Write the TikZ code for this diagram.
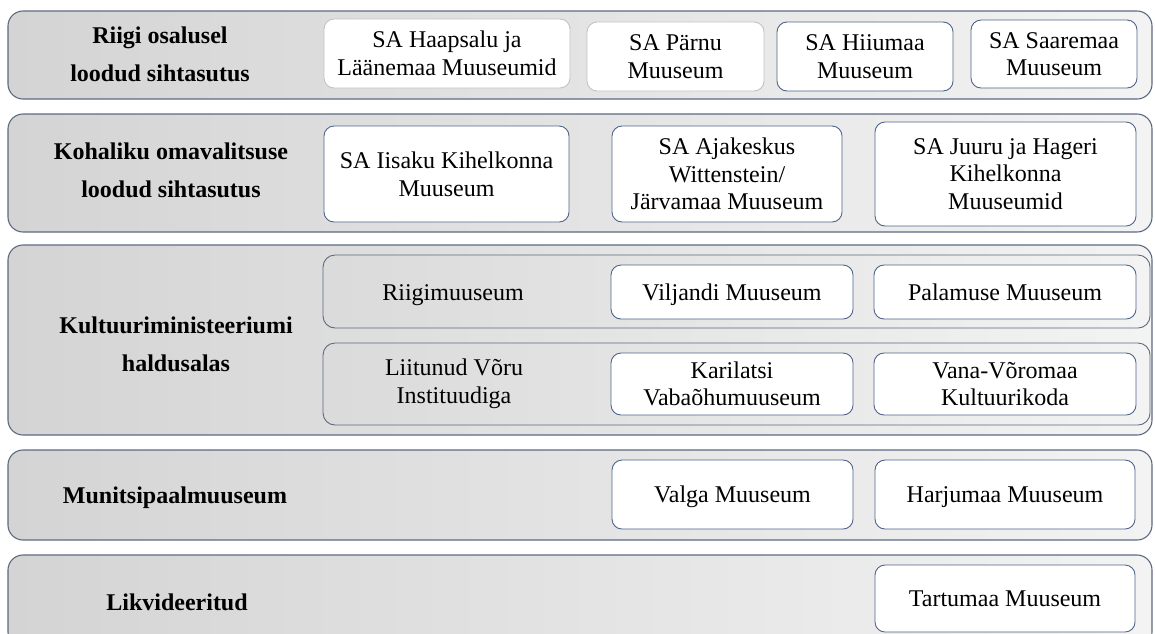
\documentclass[tikz,border=0pt]{standalone}
\usepackage{fontspec}
\setmainfont{Liberation Serif}
\definecolor{bandline}{RGB}{92,106,128}
\definecolor{boxline}{RGB}{78,100,138}
\definecolor{lightline}{RGB}{195,195,195}
\definecolor{gl}{RGB}{212,212,212}
\definecolor{gr}{RGB}{243,243,243}
\tikzset{
  band/.style={draw=bandline, line width=1.1pt, rounded corners=15pt, left color=gl, right color=gr, inner sep=0pt},
  subband/.style={draw=bandline, line width=0.9pt, rounded corners=12pt, left color=gl!85!white, right color=gr, inner sep=0pt},
  inbox/.style={draw=boxline, line width=0.9pt, fill=white, rounded corners=10pt, align=center, inner sep=0pt, font=\fontsize{24}{27.6}\selectfont},
  lightbox/.style={inbox, draw=lightline},
  title/.style={align=center, font=\fontsize{24}{38}\selectfont\bfseries},
  plain/.style={align=center, font=\fontsize{24}{27.6}\selectfont},
  oneline/.style={text height=16pt, text depth=0pt},
}
\begin{document}
\begin{tikzpicture}[x=1pt,y=-1pt]
\useasboundingbox (0,0) rectangle (1155,633);
\clip (0,0) rectangle (1155,633);
% band 1
\node[band, minimum width=1144pt, minimum height=88pt] (b1) at (580,55) {};
\node[title] (t1) at (160,54) {Riigi osalusel\\loodud sihtasutus};
\node[lightbox, minimum width=246pt, minimum height=69pt] (haap) at (447,53.5) {SA Haapsalu ja\\Läänemaa Muuseumid};
\node[lightbox, minimum width=177pt, minimum height=69pt] (parnu) at (675.5,56.5) {SA Pärnu\\Muuseum};
\node[inbox, minimum width=176pt, minimum height=69pt] (hiiu) at (865,56.5) {SA Hiiumaa\\Muuseum};
\node[inbox, minimum width=166pt, minimum height=68pt] (saare) at (1054,54) {SA Saaremaa\\Muuseum};
% band 2
\node[band, minimum width=1144pt, minimum height=118pt] (b2) at (580,173) {};
\node[title] (t2) at (171,170) {Kohaliku omavalitsuse\\loodud sihtasutus};
\node[inbox, minimum width=245pt, minimum height=96pt] (iisaku) at (446.5,174) {SA Iisaku Kihelkonna\\Muuseum};
\node[inbox, minimum width=230pt, minimum height=96pt] (ajak) at (727,174) {SA Ajakeskus\\Wittenstein/\\Järvamaa Muuseum};
\node[inbox, minimum width=261pt, minimum height=104pt] (juuru) at (1005.5,174) {SA Juuru ja Hageri\\Kihelkonna\\Muuseumid};
% band 3
\node[band, minimum width=1144pt, minimum height=190pt] (b3) at (580,340) {};
\node[title] (t3) at (176,344) {Kultuuriministeeriumi\\haldusalas};
\node[subband, minimum width=827pt, minimum height=73pt] (sa) at (736.5,291.5) {};
\node[plain, oneline] (riigi) at (453,292) {Riigimuuseum};
\node[inbox, oneline, minimum width=242pt, minimum height=54pt] (vil) at (732,292) {Viljandi Muuseum};
\node[inbox, oneline, minimum width=262pt, minimum height=54pt] (pal) at (1005,292) {Palamuse Muuseum};
\node[subband, minimum width=827pt, minimum height=82pt] (sb) at (736.5,384) {};
\node[plain] (liit) at (454,384) {Liitunud Võru\\Instituudiga};
\node[inbox, minimum width=242pt, minimum height=62pt] (kar) at (732,384) {Karilatsi\\Vabaõhumuuseum};
\node[inbox, minimum width=262pt, minimum height=62pt] (vana) at (1005,384) {Vana-Võromaa\\Kultuurikoda};
% band 4
\node[band, minimum width=1144pt, minimum height=90pt] (b4) at (580,495) {};
\node[title, oneline] (t4) at (175,495) {Munitsipaalmuuseum};
\node[inbox, oneline, minimum width=241pt, minimum height=69pt] (valga) at (732.5,494.5) {Valga Muuseum};
\node[inbox, oneline, minimum width=260pt, minimum height=69pt] (harju) at (1005,494.5) {Harjumaa Muuseum};
% band 5
\node[band, minimum width=1144pt, minimum height=92pt] (b5) at (580,601) {};
\node[title, oneline] (t5) at (177,602) {Likvideeritud};
\node[inbox, oneline, minimum width=260pt, minimum height=67pt] (tartu) at (1005,598.5) {Tartumaa Muuseum};
\end{tikzpicture}
\end{document}
